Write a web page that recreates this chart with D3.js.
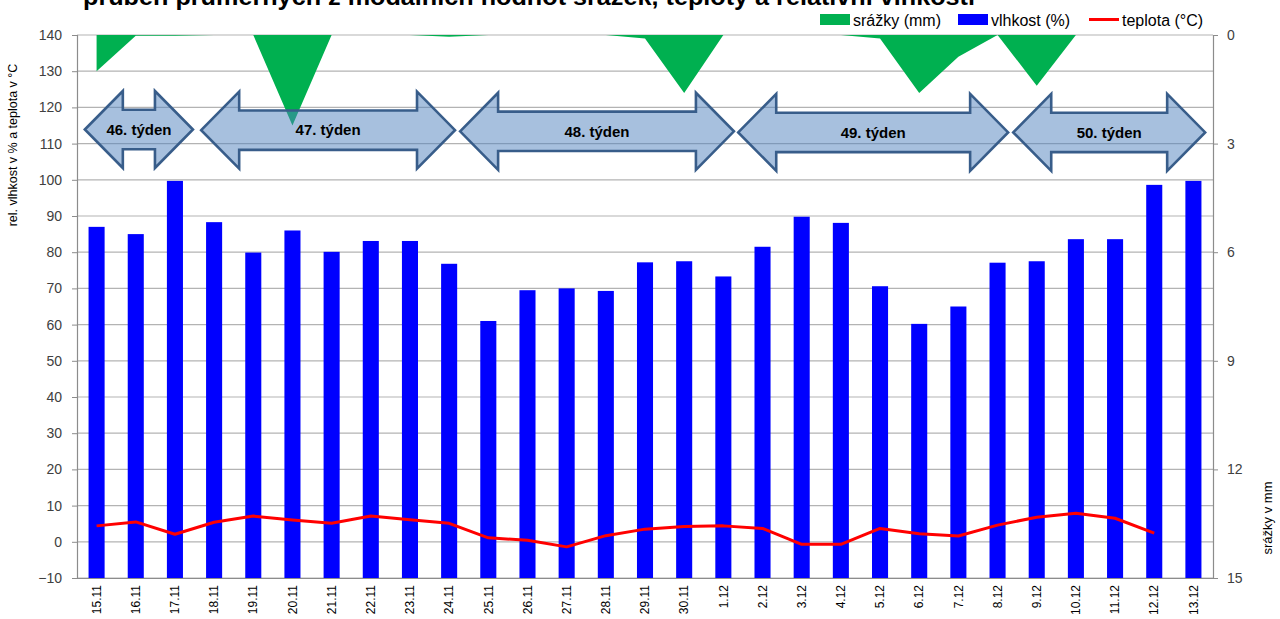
<!DOCTYPE html>
<html>
<head>
<meta charset="utf-8">
<script src="https://cdn.jsdelivr.net/npm/d3@7/dist/d3.min.js"></script>
<style>
  html, body { margin: 0; padding: 0; background: #fff; }
  svg { display: block; font-family: "Liberation Sans", Arial, sans-serif; }
</style>
</head>
<body>
<svg id="chart" width="1280" height="619"></svg>
<script>
// Daily values, 15.11 – 13.12
const categories = ["15.11","16.11","17.11","18.11","19.11","20.11","21.11","22.11","23.11","24.11",
  "25.11","26.11","27.11","28.11","29.11","30.11","1.12","2.12","3.12","4.12",
  "5.12","6.12","7.12","8.12","9.12","10.12","11.12","12.12","13.12"];

// relative humidity (%)
const humidity = [87.0, 85.0, 99.7, 88.3, 79.9, 86.0, 80.1, 83.1, 83.1, 76.8,
  61.0, 69.5, 70.0, 69.3, 77.2, 77.5, 73.3, 81.5, 89.8, 88.1,
  70.6, 60.2, 65.0, 77.1, 77.5, 83.6, 83.6, 98.6, 99.7];

// mean temperature (°C)
const temperature = [4.4, 5.5, 2.1, 5.4, 7.1, 6.0, 5.1, 7.1, 6.1, 5.1,
  1.1, 0.4, -1.4, 1.7, 3.5, 4.2, 4.4, 3.7, -0.7, -0.7,
  3.7, 2.2, 1.6, 4.6, 6.8, 7.9, 6.5, 2.4, null];

// precipitation (mm)
const precipitation = [1.0, 0.02, 0.02, 0.0, 0.0, 2.5, 0.0, 0.0, 0.0, 0.05,
  0.0, 0.0, 0.0, 0.0, 0.1, 1.6, 0.0, 0.0, 0.0, 0.0,
  0.1, 1.6, 0.6, 0.0, 1.4, 0.0, 0.0, 0.0, 0.0];

const leftTicks = [-10, 0, 10, 20, 30, 40, 50, 60, 70, 80, 90, 100, 110, 120, 130, 140];
const rightTicks = [0, 3, 6, 9, 12, 15];

// week annotations: span in day-slot units from the left edge of the plot
const weekLabels = ["46. týden", "47. týden", "48. týden", "49. týden", "50. týden"];
const weekStart = [0.2, 3.17, 9.78, 16.88, 23.9];
const weekEnd   = [2.96, 9.65, 16.77, 23.77, 28.8];
const weekLevel = [113.9, 113.7, 113.4, 113.1, 113.1];

const legendItems = ["srážky (mm)", "vlhkost (%)", "teplota (°C)"];
const titleText = "průběh průměrných z modálních hodnot srážek, teploty a relativní vlhkosti";

const margin = { left: 77, right: 1213, top: 35, bottom: 578 };
const svg = d3.select("#chart");

const x = d3.scaleBand().domain(categories)
  .range([margin.left, margin.right]).paddingInner(0.59).paddingOuter(0.295);
const cx = d => x(d) + x.bandwidth() / 2;
const slot = d3.scaleLinear().domain([0, categories.length]).range([margin.left, margin.right]);

const yL = d3.scaleLinear().domain([-10, 140]).range([margin.bottom, margin.top]);
const yR = d3.scaleLinear().domain([0, 15]).range([margin.top, margin.bottom]);

const gridColor = "#b3b3b3";
const axisColor = "#8c8c8c";
const labelColor = "#404040";

// gridlines
svg.append("g").selectAll("line").data(leftTicks).join("line")
  .attr("x1", margin.left).attr("x2", margin.right)
  .attr("y1", d => yL(d)).attr("y2", d => yL(d))
  .attr("stroke", gridColor).attr("stroke-width", 1.2);

// precipitation area
svg.append("path")
  .datum(precipitation.map((v, i) => ({ c: categories[i], v })))
  .attr("fill", "#00b050")
  .attr("d", d3.area().x(d => cx(d.c)).y0(yR(0)).y1(d => yR(d.v)));

// humidity bars
svg.append("g").selectAll("rect").data(categories).join("rect")
  .attr("x", d => x(d)).attr("width", x.bandwidth())
  .attr("y", (d, i) => yL(humidity[i]))
  .attr("height", (d, i) => yL(-10) - yL(humidity[i]))
  .attr("fill", "#0000ff");

// temperature line
svg.append("path")
  .datum(temperature.map((v, i) => ({ c: categories[i], v })))
  .attr("fill", "none").attr("stroke", "#ff0000").attr("stroke-width", 3)
  .attr("stroke-linejoin", "round")
  .attr("d", d3.line().defined(d => d.v !== null).x(d => cx(d.c)).y(d => yL(d.v)));

// left axis
const gL = svg.append("g").attr("transform", `translate(${margin.left},0)`)
  .call(d3.axisLeft(yL).tickValues(leftTicks).tickSize(5).tickPadding(10));
gL.select(".domain").attr("stroke", axisColor).attr("stroke-width", 1.2);
gL.selectAll(".tick line").attr("stroke", axisColor);
gL.selectAll(".tick text").attr("fill", labelColor).attr("font-size", 14)
  .attr("font-family", "Liberation Sans, Arial, sans-serif");

// right axis
const gR = svg.append("g").attr("transform", `translate(${margin.right},0)`)
  .call(d3.axisRight(yR).tickValues(rightTicks).tickSize(5).tickPadding(9));
gR.select(".domain").attr("stroke", axisColor).attr("stroke-width", 1.2);
gR.selectAll(".tick line").attr("stroke", axisColor);
gR.selectAll(".tick text").attr("fill", labelColor).attr("font-size", 14)
  .attr("font-family", "Liberation Sans, Arial, sans-serif");

// category axis
const gX = svg.append("g").attr("transform", `translate(0,${margin.bottom})`)
  .call(d3.axisBottom(x).tickSize(0));
gX.select(".domain").attr("stroke", axisColor).attr("stroke-width", 1.2);
gX.selectAll(".tick text")
  .attr("transform", "rotate(-90)")
  .attr("x", -7).attr("y", 0).attr("dy", "0.35em")
  .attr("text-anchor", "end")
  .attr("fill", "#000").attr("font-size", 12)
  .attr("font-family", "Liberation Sans, Arial, sans-serif");

// week arrows
const headLen = 38, headHalf = 38.5, bodyHalf = 19.7;
function doubleArrow(x0, x1, cy) {
  return `M${x0},${cy} L${x0 + headLen},${cy - headHalf} L${x0 + headLen},${cy - bodyHalf}
    L${x1 - headLen},${cy - bodyHalf} L${x1 - headLen},${cy - headHalf} L${x1},${cy}
    L${x1 - headLen},${cy + headHalf} L${x1 - headLen},${cy + bodyHalf}
    L${x0 + headLen},${cy + bodyHalf} L${x0 + headLen},${cy + headHalf} Z`;
}
const weeks = svg.append("g").selectAll("g").data(weekLabels).join("g");
weeks.append("path")
  .attr("d", (d, i) => doubleArrow(slot(weekStart[i]), slot(weekEnd[i]), yL(weekLevel[i])))
  .attr("fill", "rgba(79,129,189,0.5)")
  .attr("stroke", "#385d8a").attr("stroke-width", 2.6).attr("stroke-linejoin", "miter");
weeks.append("text")
  .attr("x", (d, i) => (slot(weekStart[i]) + slot(weekEnd[i])) / 2)
  .attr("y", (d, i) => yL(weekLevel[i]))
  .attr("dy", "0.35em").attr("text-anchor", "middle")
  .attr("font-size", 15).attr("font-weight", "bold").attr("fill", "#000")
  .text(d => d);

// axis titles
svg.append("text")
  .attr("transform", "translate(17,145) rotate(-90)")
  .attr("text-anchor", "middle").attr("font-size", 12.5).attr("fill", "#000")
  .text("rel. vlhkost v % a teplota v °C");
svg.append("text")
  .attr("transform", "translate(1272,518) rotate(-90)")
  .attr("text-anchor", "middle").attr("font-size", 13).attr("fill", "#000")
  .text("srážky v mm");

// title (runs off the top edge)
svg.append("text")
  .attr("x", 83).attr("y", 5)
  .attr("font-size", 24).attr("font-weight", "bold").attr("fill", "#000")
  .attr("textLength", 892).attr("lengthAdjust", "spacingAndGlyphs")
  .text(titleText);

// legend
const legendX = [820, 958, 1089];
const legendColors = ["#00b050", "#0000ff", "#ff0000"];
const lg = svg.append("g").selectAll("g").data(legendItems).join("g")
  .attr("transform", (d, i) => `translate(${legendX[i]},0)`);
lg.filter((d, i) => i < 2).append("rect")
  .attr("x", 0).attr("y", 14).attr("width", 30).attr("height", 11)
  .attr("fill", (d, i) => legendColors[i]);
lg.filter((d, i) => i === 2).append("line")
  .attr("x1", 0).attr("x2", 30).attr("y1", 19.5).attr("y2", 19.5)
  .attr("stroke", "#ff0000").attr("stroke-width", 3);
lg.append("text")
  .attr("x", 33).attr("y", 20).attr("dy", "0.35em")
  .attr("font-size", 16).attr("fill", "#000")
  .text(d => d);
</script>
</body>
</html>
